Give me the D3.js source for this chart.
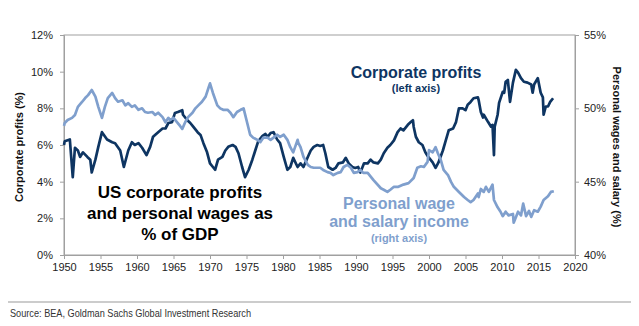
<!DOCTYPE html>
<html>
<head>
<meta charset="utf-8">
<script src="https://cdn.jsdelivr.net/npm/d3@7"></script>
<style>
  html, body { margin: 0; padding: 0; background: #fff; }
  svg text { font-family: "Liberation Sans", Arial, sans-serif; }
</style>
</head>
<body>
<svg id="chart" width="639" height="326"></svg>
<script>
// corporate profits, % of GDP (left axis)
var profitYears = [1950.0, 1950.1, 1950.8, 1951.2, 1951.5, 1951.9, 1952.2, 1952.6, 1953.2, 1953.6,
  1953.8, 1954.3, 1954.7, 1955.2, 1955.9, 1956.6, 1957.0, 1957.7, 1958.2, 1958.8,
  1959.3, 1959.7, 1960.2, 1960.7, 1961.3, 1961.8, 1962.2, 1962.9, 1963.5, 1963.9,
  1964.3, 1964.8, 1965.2, 1965.6, 1966.2, 1966.3, 1966.9, 1967.3, 1967.7, 1968.3,
  1968.7, 1969.1, 1969.6, 1970.0, 1970.4, 1970.7, 1971.1, 1971.7, 1972.1, 1972.5,
  1973.1, 1973.5, 1973.9, 1974.4, 1974.8, 1975.3, 1975.8, 1976.2, 1976.6, 1977.2,
  1977.6, 1977.9, 1978.3, 1978.7, 1979.2, 1979.6, 1980.1, 1980.6, 1981.0, 1981.4,
  1982.0, 1982.4, 1982.8, 1983.4, 1983.8, 1984.2, 1984.7, 1985.1, 1985.5, 1985.8,
  1986.2, 1986.8, 1987.2, 1987.6, 1988.2, 1988.6, 1989.0, 1989.5, 1989.9, 1990.3,
  1990.6, 1991.1, 1991.6, 1992.0, 1992.4, 1993.0, 1993.4, 1993.8, 1994.3, 1994.7,
  1995.2, 1995.7, 1996.1, 1996.5, 1997.1, 1997.5, 1997.8, 1997.9, 1998.2, 1998.6,
  1999.1, 1999.5, 1999.9, 2000.5, 2000.9, 2001.3, 2001.9, 2002.3, 2002.7, 2003.3,
  2003.7, 2004.1, 2004.6, 2005.0, 2005.3, 2005.7, 2006.1, 2006.7, 2006.8, 2007.1,
  2007.4, 2007.5, 2008.1, 2008.5, 2008.7, 2008.9, 2009.0, 2009.4, 2009.6, 2010.1,
  2010.3, 2010.5, 2010.8, 2011.1, 2011.5, 2011.9, 2012.2, 2012.6, 2013.0, 2013.5,
  2014.0, 2014.2, 2014.4, 2014.9, 2015.3, 2015.6, 2015.7, 2016.0, 2016.3, 2016.6,
  2017.0];
var profitValues = [6.0, 6.2, 6.3, 4.25, 5.85, 5.7, 5.35, 5.6, 5.35, 5.2,
  4.5, 5.2, 5.9, 6.7, 6.3, 6.15, 6.1, 5.7, 4.8, 5.7,
  6.15, 6.0, 6.1, 5.85, 5.45, 5.9, 6.45, 6.7, 6.9, 6.9,
  7.2, 7.25, 7.75, 7.8, 7.9, 7.65, 7.35, 7.2, 7.0, 6.7,
  6.55, 6.1, 5.6, 5.0, 4.8, 4.65, 5.2, 5.35, 5.7, 5.9,
  6.0, 5.9, 5.55, 4.8, 4.25, 4.65, 5.2, 5.7, 6.2, 6.5,
  6.6, 6.45, 6.65, 6.7, 6.3, 6.1, 5.35, 4.65, 4.8, 5.3,
  4.8, 5.0, 4.8, 5.35, 5.7, 5.9, 6.0, 5.95, 6.0, 5.55,
  4.8, 4.65, 4.75, 5.0, 5.05, 5.3, 5.0, 4.8, 4.75, 4.8,
  4.5, 5.0, 5.0, 5.2, 5.05, 5.0, 5.2, 5.55, 5.85, 6.0,
  6.25, 6.7, 6.9, 6.8, 7.1, 7.25, 7.35, 7.0, 6.45, 6.15,
  6.0, 5.6, 5.35, 5.05, 4.75, 5.05, 5.7, 6.25, 6.8, 6.9,
  7.25, 8.0, 8.0, 7.9, 8.2, 8.35, 8.55, 8.6, 8.45, 7.8,
  7.5, 7.65, 7.25, 7.0, 7.1, 5.45, 7.0, 7.65, 8.3, 8.9,
  8.85, 9.45, 9.55, 8.35, 9.4, 10.1, 9.95, 9.65, 9.45, 9.4,
  9.3, 8.85, 9.3, 9.65, 8.85, 8.6, 7.65, 8.1, 8.1, 8.35,
  8.55];

// personal wage and salary income, % of GDP (right axis)
var wageYears = [1950.0, 1950.1, 1950.5, 1951.1, 1951.5, 1951.9, 1952.5, 1952.9, 1953.3, 1953.8,
  1954.3, 1954.7, 1955.2, 1955.6, 1956.0, 1956.6, 1957.0, 1957.4, 1958.0, 1958.4,
  1958.8, 1959.3, 1959.7, 1960.2, 1960.7, 1961.1, 1961.5, 1962.1, 1962.5, 1962.9,
  1963.5, 1963.9, 1964.3, 1964.5, 1965.0, 1965.5, 1965.9, 1966.2, 1966.6, 1967.0,
  1967.6, 1968.0, 1968.4, 1968.9, 1969.4, 1969.8, 1970.0, 1970.4, 1971.0, 1971.4,
  1971.8, 1972.4, 1972.8, 1973.2, 1973.7, 1974.2, 1974.6, 1975.1, 1975.5, 1975.9,
  1976.5, 1976.9, 1977.3, 1977.9, 1978.3, 1978.7, 1979.2, 1979.6, 1980.1, 1980.6,
  1981.0, 1981.4, 1982.0, 1982.1, 1982.4, 1982.8, 1983.4, 1983.8, 1984.2, 1984.7,
  1985.1, 1985.5, 1986.1, 1986.5, 1986.9, 1987.5, 1987.9, 1988.3, 1988.8, 1989.3,
  1989.7, 1990.2, 1990.6, 1991.0, 1991.6, 1992.4, 1993.4, 1993.8, 1994.3, 1994.7,
  1995.2, 1995.8, 1996.5, 1997.2, 1997.9, 1998.4, 1998.9, 1999.3, 1999.8, 2000.0,
  2000.5, 2000.9, 2001.2, 2001.6, 2002.0, 2002.6, 2003.0, 2003.4, 2004.1, 2004.8,
  2005.3, 2005.7, 2006.1, 2006.7, 2006.8, 2007.1, 2007.5, 2007.8, 2008.2, 2008.7,
  2008.9, 2009.4, 2009.8, 2010.1, 2010.5, 2010.9, 2011.5, 2011.6, 2012.2, 2012.6,
  2012.9, 2013.3, 2013.7, 2014.0, 2014.4, 2014.9, 2015.3, 2015.7, 2016.3, 2016.7,
  2017.1];
var wageValues = [48.8, 49.0, 49.2, 49.35, 49.55, 50.1, 50.45, 50.7, 50.9, 51.25,
  50.8, 50.1, 49.35, 50.1, 50.7, 51.05, 50.7, 50.45, 50.55, 50.2,
  50.35, 50.1, 50.2, 49.9, 50.0, 49.75, 49.7, 49.75, 49.55, 49.7,
  49.4, 49.05, 49.35, 49.2, 49.35, 49.05, 48.8, 48.6, 49.05, 49.4,
  49.7, 50.0, 50.2, 50.45, 50.8, 51.4, 51.7, 51.05, 50.2, 50.0,
  49.9, 49.9, 49.7, 49.4, 49.75, 49.9, 50.0, 49.0, 48.2, 48.0,
  47.85, 47.7, 48.0, 48.0, 47.85, 48.0, 48.2, 48.05, 48.2, 47.85,
  47.35, 47.0, 47.85, 47.65, 47.35, 46.7, 46.15, 46.0, 45.95, 45.95,
  45.95, 45.8, 45.65, 45.6, 45.45, 45.6, 45.65, 46.0, 46.15, 45.95,
  45.6, 45.65, 45.8, 45.6, 45.6, 45.1, 44.55, 44.45, 44.3, 44.45,
  44.65, 44.65, 44.8, 44.9, 45.25, 45.95, 46.05, 46.0, 46.35, 47.15,
  47.0, 47.35, 46.95, 46.5, 45.8, 45.45, 45.0, 44.65, 44.3, 43.95,
  43.75, 43.6, 43.75, 44.2, 43.95, 44.5, 44.3, 44.65, 44.3, 44.8,
  43.75, 43.25, 42.95, 42.65, 42.95, 42.7, 42.8, 42.2, 42.95, 42.7,
  43.5, 42.65, 43.0, 42.6, 43.05, 42.95, 43.3, 43.75, 44.0, 44.3,
  44.35];

var yearTicks = d3.range(1950, 2021, 5);
var leftTicks = [0, 2, 4, 6, 8, 10, 12];
var rightTicks = [40, 45, 50, 55];

var darkBlue = '#0e3562',
    lightBlue = '#7f9fcd',
    axisGrey = '#a0a0a0';

var svg = d3.select('#chart');
svg.append('rect').attr('width', 639).attr('height', 326).attr('fill', '#fff');

var margin = {left: 64, right: 575, top: 35, bottom: 255};

var x = d3.scaleLinear().domain([1950, 2020]).range([margin.left, margin.right]);
var yLeft = d3.scaleLinear().domain([0, 12]).range([margin.bottom, margin.top]);
var yRight = d3.scaleLinear().domain([40, 55]).range([margin.bottom, margin.top]);

// frame around the plot
svg.append('rect')
    .attr('x', margin.left).attr('y', margin.top)
    .attr('width', margin.right - margin.left)
    .attr('height', margin.bottom - margin.top)
    .attr('fill', 'none').attr('stroke', axisGrey).attr('stroke-width', 1);

function styleAxis(g) {
  g.select('.domain').attr('stroke', axisGrey);
  g.selectAll('.tick line').attr('stroke', axisGrey);
  g.selectAll('.tick text')
      .attr('fill', '#222')
      .style('font-size', '11px')
      .style('font-family', '"Liberation Sans", Arial, sans-serif');
}

svg.append('g')
    .attr('transform', 'translate(0,' + margin.bottom + ')')
    .call(d3.axisBottom(x).tickValues(yearTicks).tickFormat(d3.format('d')).tickSizeOuter(0).tickSize(4).tickPadding(4))
    .call(styleAxis);

svg.append('g')
    .attr('transform', 'translate(' + margin.left + ',0)')
    .call(d3.axisLeft(yLeft).tickValues(leftTicks).tickFormat(function(d) { return d + '%'; }).tickSizeOuter(0).tickSize(4).tickPadding(7))
    .call(styleAxis);

svg.append('g')
    .attr('transform', 'translate(' + margin.right + ',0)')
    .call(d3.axisRight(yRight).tickValues(rightTicks).tickFormat(function(d) { return d + '%'; }).tickSizeOuter(0).tickSize(4).tickPadding(5))
    .call(styleAxis);

// series
var profitLine = d3.line()
    .x(function(d, i) { return x(profitYears[i]); })
    .y(function(d) { return yLeft(d); });
var wageLine = d3.line()
    .x(function(d, i) { return x(wageYears[i]); })
    .y(function(d) { return yRight(d); });

svg.append('path')
    .attr('d', profitLine(profitValues))
    .attr('fill', 'none').attr('stroke', darkBlue)
    .attr('stroke-width', 2.7).attr('stroke-linejoin', 'round');

svg.append('path')
    .attr('d', wageLine(wageValues))
    .attr('fill', 'none').attr('stroke', lightBlue)
    .attr('stroke-width', 2.7).attr('stroke-linejoin', 'round');

// axis titles
svg.append('text')
    .attr('transform', 'translate(23,147) rotate(-90)')
    .attr('text-anchor', 'middle')
    .style('font-size', '11px').style('font-weight', 'bold')
    .attr('fill', '#111')
    .text('Corporate profits (%)');

svg.append('text')
    .attr('transform', 'translate(613,147) rotate(90)')
    .attr('text-anchor', 'middle')
    .style('font-size', '11px').style('font-weight', 'bold')
    .attr('fill', '#111')
    .text('Personal wages and salary (%)');

// chart title inside plot
var title = svg.append('text')
    .attr('text-anchor', 'middle')
    .style('font-size', '17px').style('font-weight', 'bold')
    .attr('fill', '#000');
['US corporate profits', 'and personal wages as', '% of GDP'].forEach(function(s, i) {
  title.append('tspan').attr('x', 180).attr('y', 198 + i * 21).text(s);
});

// series labels
svg.append('text').attr('x', 416).attr('y', 78)
    .attr('text-anchor', 'middle')
    .style('font-size', '16px').style('font-weight', 'bold')
    .attr('fill', darkBlue).text('Corporate profits');
svg.append('text').attr('x', 416).attr('y', 92)
    .attr('text-anchor', 'middle')
    .style('font-size', '11px').style('font-weight', 'bold')
    .attr('fill', darkBlue).text('(left axis)');

svg.append('text').attr('x', 399).attr('y', 209)
    .attr('text-anchor', 'middle')
    .style('font-size', '16px').style('font-weight', 'bold')
    .attr('fill', lightBlue).text('Personal wage');
svg.append('text').attr('x', 399).attr('y', 227)
    .attr('text-anchor', 'middle')
    .style('font-size', '16px').style('font-weight', 'bold')
    .attr('fill', lightBlue).text('and salary income');
svg.append('text').attr('x', 399).attr('y', 242)
    .attr('text-anchor', 'middle')
    .style('font-size', '11px').style('font-weight', 'bold')
    .attr('fill', lightBlue).text('(right axis)');

// source footer, squeezed to a narrow face
svg.append('line')
    .attr('x1', 8).attr('x2', 631).attr('y1', 302).attr('y2', 302)
    .attr('stroke', '#999').attr('stroke-width', 1);
svg.append('text').attr('x', 10).attr('y', 317)
    .style('font-size', '11px')
    .attr('fill', '#333')
    .attr('textLength', 241)
    .attr('lengthAdjust', 'spacingAndGlyphs')
    .text('Source: BEA, Goldman Sachs Global Investment Research');
</script>
</body>
</html>
